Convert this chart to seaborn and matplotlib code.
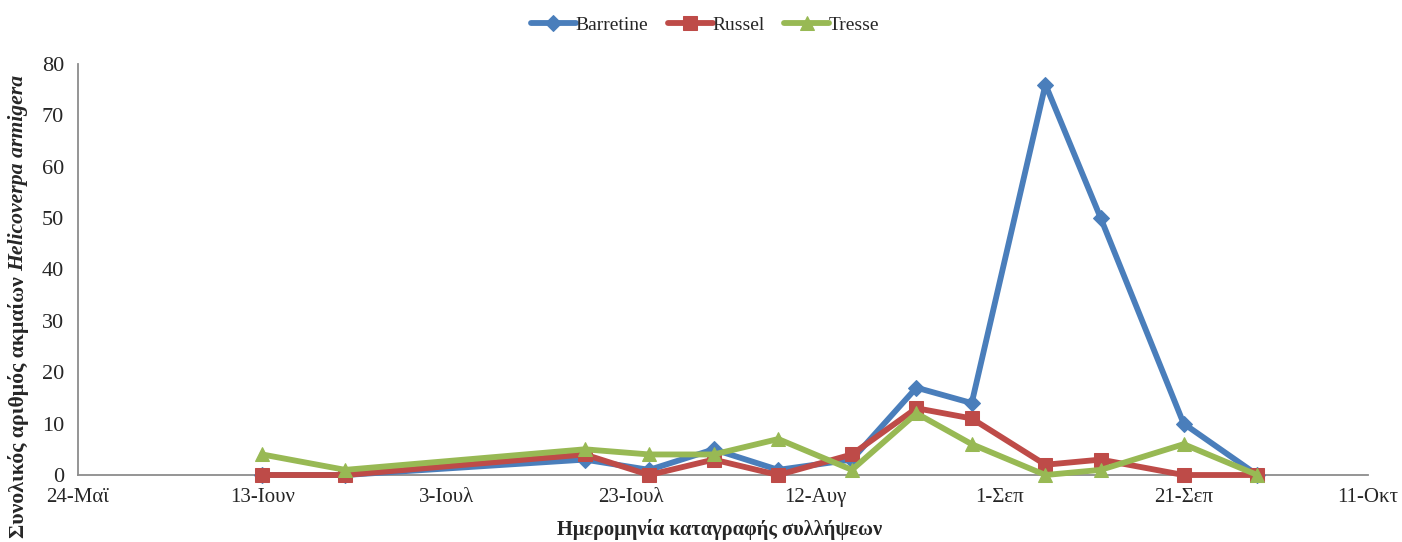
import matplotlib
matplotlib.use("Agg")
import matplotlib.pyplot as plt
import numpy as np
import pandas as pd
import seaborn as sns

# Trap-catch dates (2013 season)
dates = ["2013-06-13", "2013-06-22", "2013-07-18", "2013-07-25", "2013-08-01",
         "2013-08-08", "2013-08-16", "2013-08-23", "2013-08-29", "2013-09-06",
         "2013-09-12", "2013-09-21", "2013-09-29"]

# Total adult catches per trap type
barretine = [0, 0, 3, 1, 5, 1, 3, 17, 14, 76, 50, 10, 0]
russel = [0, 0, 4, 0, 3, 0, 4, 13, 11, 2, 3, 0, 0]
tresse = [4, 1, 5, 4, 4, 7, 1, 12, 6, 0, 1, 6, 0]

series_names = ["Barretine", "Russel", "Tresse"]

tick_dates = ["2013-05-24", "2013-06-13", "2013-07-03", "2013-07-23",
              "2013-08-12", "2013-09-01", "2013-09-21", "2013-10-11"]
tick_labels = ["24-Μαϊ", "13-Ιουν", "3-Ιουλ", "23-Ιουλ", "12-Αυγ",
               "1-Σεπ", "21-Σεπ", "11-Οκτ"]

y_ticks = [0, 10, 20, 30, 40, 50, 60, 70, 80]

df = pd.DataFrame({
    "date": pd.to_datetime(dates * 3),
    "value": barretine + russel + tresse,
    "trap": np.repeat(series_names, len(dates)),
})

sns.set_style("white")
plt.rcParams["font.family"] = ["Liberation Serif", "DejaVu Serif"]

colors = {"Barretine": "#4A7EBB", "Russel": "#BE4B48", "Tresse": "#98B954"}
markers = {"Barretine": "D", "Russel": "s", "Tresse": "^"}
msizes = {"Barretine": 8, "Russel": 10, "Tresse": 10}

fig = plt.figure(figsize=(14.02, 5.42), dpi=100)
ax = fig.add_axes([0.0556, 0.1236, 0.9201, 0.7584])

for name in series_names:
    sub = df[df["trap"] == name]
    sns.lineplot(data=sub, x="date", y="value", ax=ax, color=colors[name],
                 marker=markers[name], markersize=msizes[name],
                 markeredgecolor=colors[name], linewidth=4.2,
                 label=name, clip_on=False, zorder=3)

ax.set_xlim(pd.Timestamp(tick_dates[0]), pd.Timestamp(tick_dates[-1]))
ax.set_ylim(0, 80)
ax.set_xticks(pd.to_datetime(tick_dates))
ax.set_xticklabels(tick_labels, fontsize=15)
ax.set_yticks(y_ticks)
ax.set_yticklabels([str(v) for v in y_ticks], fontsize=16)
ax.tick_params(axis="both", length=0)
ax.tick_params(axis="x", pad=9)
ax.tick_params(axis="y", pad=10)

for side in ["top", "right"]:
    ax.spines[side].set_visible(False)
for side in ["left", "bottom"]:
    ax.spines[side].set_color("#8C8C8C")
    ax.spines[side].set_linewidth(1.3)

ax.set_xlabel("")
ax.set_ylabel("")
fig.text(0.513, 0.004, "Ημερομηνία καταγραφής συλλήψεων", ha="center",
         va="bottom", fontsize=14.7, fontweight="bold")

ax.legend(loc="center", bbox_to_anchor=(0.503, 0.953),
          bbox_transform=fig.transFigure, ncol=3, frameon=False,
          fontsize=14, handlelength=2.3, columnspacing=1.0,
          handletextpad=0.0, borderaxespad=0)

# Rotated y label: regular bold part followed by the bold-italic species name
fig.canvas.draw()
renderer = fig.canvas.get_renderer()
lx = 0.013
part1 = "Συνολικός αριθμός ακμαίων "
part2 = "Helicoverpa armigera"
t1 = fig.text(lx, 0, part1, rotation=90, ha="center", va="bottom",
              fontsize=15.7, fontweight="bold")
t2 = fig.text(lx, 0, part2, rotation=90, ha="center", va="bottom",
              fontsize=15.7, fontweight="bold", fontstyle="italic")
h1 = t1.get_window_extent(renderer).height / fig.bbox.height
h2 = t2.get_window_extent(renderer).height / fig.bbox.height
total = h1 + h2
center = 0.435
start = center - total / 2
t1.set_y(start)
t2.set_y(start + h1)

fig.savefig("out.png", dpi=100)
